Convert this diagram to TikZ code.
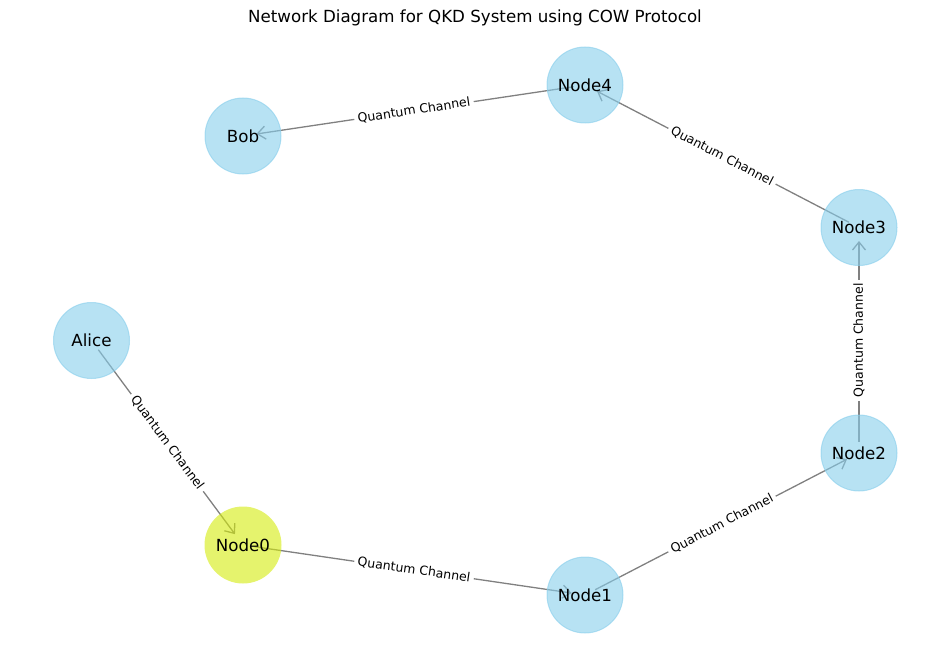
\documentclass[tikz,border=0pt]{standalone}
\usepackage{fontspec}
\setmainfont{DejaVu Sans}
\usetikzlibrary{arrows.meta,backgrounds}
\definecolor{skyblue}{RGB}{135,206,235}
\definecolor{nodeyellow}{RGB}{212,235,12}
\definecolor{edgegray}{RGB}{128,128,128}
\begin{document}
\begin{tikzpicture}[x=1pt,y=-1pt,
  qnode/.style={circle, minimum size=76pt, inner sep=0pt, fill=skyblue, draw=skyblue,
    fill opacity=0.6, draw opacity=0.6, text opacity=1, line width=1pt,
    font=\fontsize{16.67}{20}\selectfont},
  qedge/.style={draw=edgegray, line width=1.3pt,
    -{Straight Barb[length=8pt,width=13pt]}, shorten <=11.5pt, shorten >=13.5pt},
  qlabel/.style={sloped, fill=white, inner sep=3.5pt, text=black,
    font=\fontsize{12.5}{14}\selectfont}]
\useasboundingbox (0,0) rectangle (950,658);
\node[font=\fontsize{16.67}{20}\selectfont] (title) at (475,18) {Network Diagram for QKD System using COW Protocol};
\node[qnode] (bob) at (243,136) {Bob};
\node[qnode] (n4) at (585,85) {Node4};
\node[qnode] (n3) at (859,227.5) {Node3};
\node[qnode] (n2) at (859,453) {Node2};
\node[qnode] (n1) at (585,595) {Node1};
\node[qnode, fill=nodeyellow, draw=none, minimum size=77pt] (n0) at (243,545) {Node0};
\node[qnode] (alice) at (91.5,340.5) {Alice};
\begin{pgfonlayer}{background}
\draw[qedge] (alice.center) -- node[qlabel] {Quantum Channel} (n0.center);
\draw[qedge] (n0.center) -- node[qlabel] {Quantum Channel} (n1.center);
\draw[qedge] (n1.center) -- node[qlabel] {Quantum Channel} (n2.center);
\draw[qedge] (n2.center) -- node[qlabel] {Quantum Channel} (n3.center);
\draw[qedge] (n3.center) -- node[qlabel] {Quantum Channel} (n4.center);
\draw[qedge] (n4.center) -- node[qlabel] {Quantum Channel} (bob.center);
\end{pgfonlayer}
\end{tikzpicture}
\end{document}
